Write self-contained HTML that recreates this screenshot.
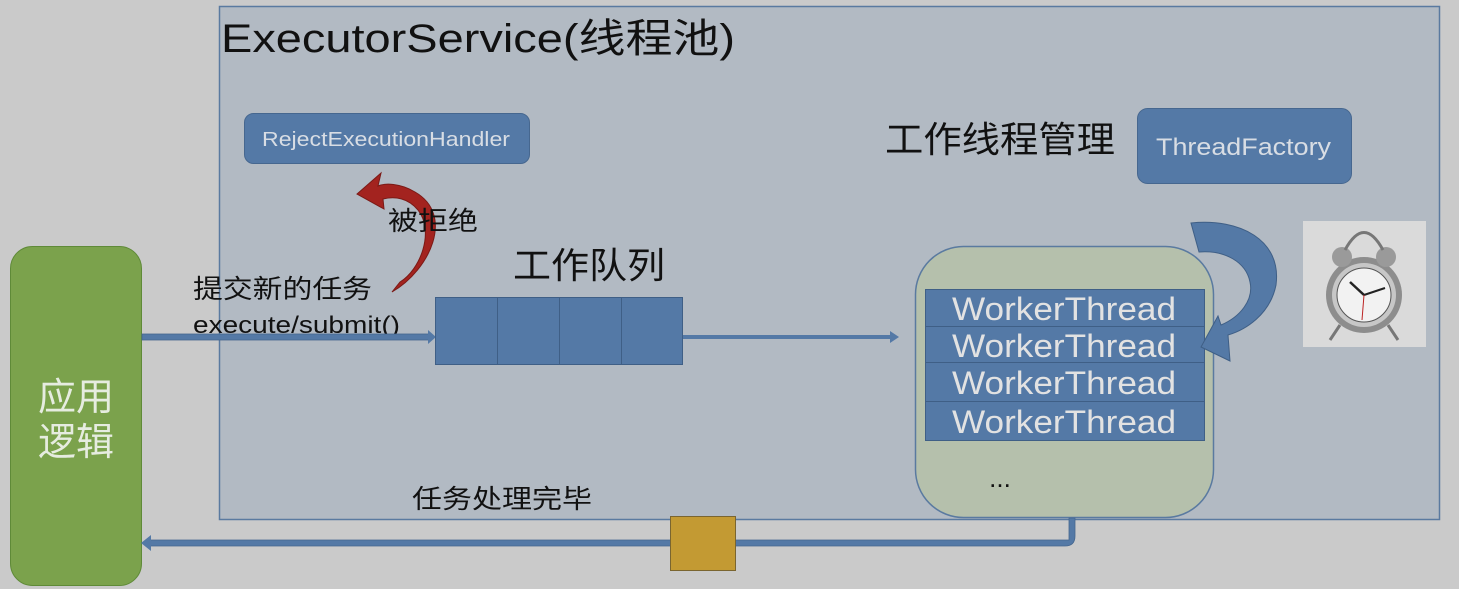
<!DOCTYPE html>
<html><head><meta charset="utf-8"><style>
html,body{margin:0;padding:0;background:#cacaca;width:1459px;height:589px;overflow:hidden}
svg text{font-family:"Liberation Sans","Noto Sans CJK SC",sans-serif}
</style></head><body>
<svg width="1459" height="589" viewBox="0 0 1459 589" xmlns="http://www.w3.org/2000/svg">
<rect x="0" y="0" width="1459" height="589" fill="#cacaca"/>
<rect x="219.5" y="6.5" width="1220" height="513" fill="#b2bac3" stroke="#5a7aa0" stroke-width="1.5"/>
<text x="221" y="52" font-size="40" fill="#111" textLength="514" lengthAdjust="spacingAndGlyphs">ExecutorService(线程池)</text>
<rect x="244.5" y="113.5" width="285" height="50" rx="9" fill="#5479a6" stroke="#46678f"/>
<text x="262" y="146" font-size="20" fill="#d8dde4" textLength="248" lengthAdjust="spacingAndGlyphs">RejectExecutionHandler</text>
<path d="M392,292 C430,270 455,215 415,192 C400,183 385,183 378,186 L381,173 L357,194 L384,209 L383,199 C395,196 408,198 418,210 C435,232 420,270 400,282 Z" fill="#a3231f" stroke="#7a1a16" stroke-width="1"/>
<text x="388" y="230" font-size="26" fill="#111" textLength="90" lengthAdjust="spacingAndGlyphs">被拒绝</text>
<text x="513" y="278" font-size="36" fill="#111" textLength="152" lengthAdjust="spacingAndGlyphs">工作队列</text>
<text x="193" y="298" font-size="26" fill="#111" textLength="179" lengthAdjust="spacingAndGlyphs">提交新的任务</text>
<text x="193" y="333" font-size="24" fill="#111" textLength="207" lengthAdjust="spacingAndGlyphs">execute/submit()</text>
<rect x="10.5" y="246.5" width="131" height="339" rx="22" fill="#7ba24c" stroke="#5f8a38"/>
<text x="76" y="410" font-size="38" fill="#e6ece0" text-anchor="middle">应用</text>
<text x="76" y="455" font-size="38" fill="#e6ece0" text-anchor="middle">逻辑</text>
<rect x="142" y="334" width="288" height="6" fill="#5479a6" stroke="#46678f" stroke-width="0.8"/>
<path d="M428,330 L436,337 L428,344 Z" fill="#5479a6"/>
<rect x="435.5" y="297.5" width="247" height="67" fill="#5479a6" stroke="#3f5f86"/>
<line x1="497.5" y1="297" x2="497.5" y2="365" stroke="#3f5f86"/>
<line x1="559.5" y1="297" x2="559.5" y2="365" stroke="#3f5f86"/>
<line x1="621.5" y1="297" x2="621.5" y2="365" stroke="#3f5f86"/>
<rect x="683" y="335" width="210" height="4" fill="#5479a6"/>
<path d="M890,331 L899,337 L890,343 Z" fill="#5479a6"/>
<rect x="915.5" y="246.5" width="298" height="271" rx="48" fill="#b5c0ac" stroke="#5a7aa0" stroke-width="1.5"/>
<rect x="925.5" y="289.5" width="279" height="151" fill="#5479a6" stroke="#3f5f86"/>
<line x1="925" y1="326.5" x2="1205" y2="326.5" stroke="#3f5f86"/>
<line x1="925" y1="362.5" x2="1205" y2="362.5" stroke="#3f5f86"/>
<line x1="925" y1="401.5" x2="1205" y2="401.5" stroke="#3f5f86"/>
<g font-size="32" fill="#e2e2e2">
<text x="952" y="320" textLength="224" lengthAdjust="spacingAndGlyphs">WorkerThread</text>
<text x="952" y="357" textLength="224" lengthAdjust="spacingAndGlyphs">WorkerThread</text>
<text x="952" y="394" textLength="224" lengthAdjust="spacingAndGlyphs">WorkerThread</text>
<text x="952" y="433" textLength="224" lengthAdjust="spacingAndGlyphs">WorkerThread</text>
</g>
<text x="1000" y="487" font-size="26" fill="#111" text-anchor="middle">...</text>
<text x="885" y="152" font-size="36" fill="#111" textLength="230" lengthAdjust="spacingAndGlyphs">工作线程管理</text>
<rect x="1137.5" y="108.5" width="214" height="75" rx="10" fill="#5479a6" stroke="#46678f"/>
<text x="1156" y="155" font-size="24" fill="#d8dde4" textLength="175" lengthAdjust="spacingAndGlyphs">ThreadFactory</text>
<path d="M1191,223 C1240,218 1282,240 1276,285 C1270,315 1245,330 1228,335 L1230,361 L1201,347 L1218,316 L1221,325 C1240,317 1254,300 1250,282 C1246,262 1225,250 1199,252 Z" fill="#5479a6" stroke="#3f5f86" stroke-width="1"/>
<rect x="1303" y="221" width="123" height="126" fill="#dadada"/>
<g>
<circle cx="1364" cy="295" r="38" fill="#8d8d8d"/>
<circle cx="1364" cy="295" r="32" fill="#c7c7c7"/>
<circle cx="1364" cy="295" r="27" fill="#f2f2f2" stroke="#555"/>
<circle cx="1342" cy="257" r="10" fill="#9a9a9a"/>
<circle cx="1386" cy="257" r="10" fill="#9a9a9a"/>
<path d="M1345,250 Q1364,215 1383,250" fill="none" stroke="#777" stroke-width="3"/>
<line x1="1364" y1="295" x2="1350" y2="282" stroke="#222" stroke-width="2.5"/>
<line x1="1364" y1="295" x2="1385" y2="288" stroke="#222" stroke-width="2"/>
<line x1="1364" y1="295" x2="1362" y2="320" stroke="#b22" stroke-width="1"/>
<line x1="1340" y1="325" x2="1330" y2="340" stroke="#777" stroke-width="3"/>
<line x1="1388" y1="325" x2="1398" y2="340" stroke="#777" stroke-width="3"/>
</g>
<path d="M1075,518 L1075,536 Q1075,546 1065,546 L148,546 L148,540 L1069,540 L1069,518 Z" fill="#5479a6" stroke="#46678f" stroke-width="0.8"/>
<path d="M151,535 L141,543 L151,551 Z" fill="#5479a6"/>
<rect x="670.5" y="516.5" width="65" height="54" fill="#c39a33" stroke="#7a6530"/>
<text x="412" y="508" font-size="26" fill="#111" textLength="180" lengthAdjust="spacingAndGlyphs">任务处理完毕</text>
</svg>
</body></html>
